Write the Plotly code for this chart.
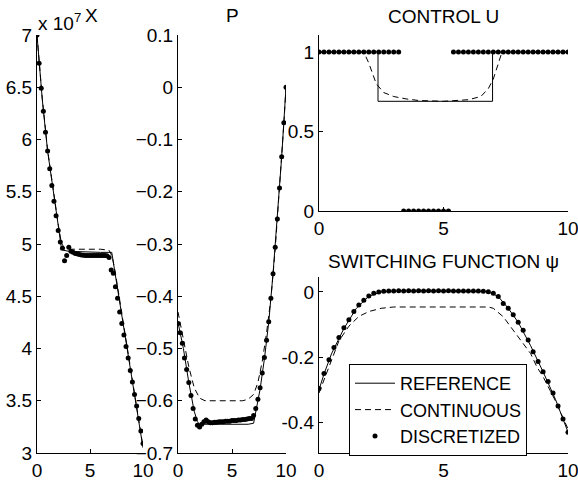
import plotly.graph_objects as go

# ---------------- data ----------------
# discretized time grid
t_disc = [0.0, 0.2, 0.4, 0.6, 0.8, 1.0, 1.2, 1.4, 1.6, 1.8,
          2.0, 2.2, 2.4, 2.6, 2.8, 3.0, 3.2, 3.4, 3.6, 3.8,
          4.0, 4.2, 4.4, 4.6, 4.8, 5.0, 5.2, 5.4, 5.6, 5.8,
          6.0, 6.2, 6.4, 6.6, 6.8, 7.0, 7.2, 7.4, 7.6, 7.8,
          8.0, 8.2, 8.4, 8.6, 8.8, 9.0, 9.2, 9.4, 9.6, 9.8, 10.0]

# X (units of 1e7)
X_disc = [7.00, 6.73, 6.49, 6.27, 6.07, 5.89, 5.72, 5.56, 5.41, 5.27,
          5.13, 5.02, 4.96, 4.84, 4.89, 4.97, 4.93, 4.92, 4.91, 4.905,
          4.90, 4.895, 4.893, 4.89, 4.89, 4.89, 4.89, 4.89, 4.89, 4.89,
          4.89, 4.89, 4.89, 4.888, 4.87, 4.75, 4.72, 4.59, 4.48, 4.35,
          4.24, 4.13, 4.02, 3.91, 3.79, 3.68, 3.56, 3.45, 3.33, 3.21, 3.09]
t_X_ref = [0.0, 0.5, 1.0, 1.5, 2.0, 2.3, 2.5, 3.0, 4.0, 5.0, 6.0, 7.05, 8.0, 9.0, 10.0]
X_ref = [7.00, 6.38, 5.89, 5.51, 5.18, 4.96, 4.94, 4.93, 4.925, 4.92, 4.92, 4.92, 4.33, 3.69, 3.05]
t_X_cont = [0.0, 0.5, 1.0, 1.5, 2.0, 2.3, 2.6, 3.0, 4.0, 5.0, 6.0, 6.8, 7.1, 7.4, 8.0, 9.0, 10.0]
X_cont = [7.00, 6.39, 5.90, 5.52, 5.19, 5.01, 4.96, 4.95, 4.95, 4.95, 4.95, 4.94, 4.88, 4.72, 4.34, 3.70, 3.06]

# P (costate)
P_disc = [-0.452, -0.47, -0.49, -0.518, -0.54, -0.565, -0.59, -0.615, -0.635, -0.647,
          -0.650, -0.645, -0.640, -0.637, -0.640, -0.642, -0.642, -0.641, -0.641, -0.640,
          -0.640, -0.640, -0.639, -0.639, -0.639, -0.638, -0.638, -0.638, -0.637, -0.637,
          -0.636, -0.636, -0.635, -0.634, -0.634, -0.628, -0.615, -0.597, -0.575, -0.547,
          -0.517, -0.484, -0.449, -0.404, -0.357, -0.306, -0.252, -0.193, -0.133, -0.068, 0.0]
t_P_ref = [0.0, 0.5, 1.0, 1.5, 1.8, 2.0, 3.0, 5.0, 6.5, 7.0, 7.3, 7.6, 8.0, 8.4, 8.8, 9.2, 9.6, 10.0]
P_ref = [-0.45, -0.50, -0.565, -0.62, -0.64, -0.645, -0.645, -0.645, -0.645, -0.643,
         -0.612, -0.578, -0.52, -0.45, -0.357, -0.252, -0.133, 0.0]
t_P_cont = [0.0, 0.5, 1.0, 1.5, 2.0, 2.5, 4.0, 6.0, 6.5, 7.0, 7.4, 7.8, 8.2, 8.6, 9.0, 9.4, 9.8, 10.0]
P_cont = [-0.43, -0.48, -0.535, -0.575, -0.595, -0.60, -0.60, -0.60, -0.597, -0.588,
          -0.565, -0.525, -0.47, -0.405, -0.31, -0.195, -0.07, 0.0]

# Control U
U_disc = [1, 1, 1, 1, 1, 1, 1, 1, 1, 1,
          1, 1, 1, 1, 1, 1, 1, 0, 0, 0,
          0, 0, 0, 0, 0, 0, 0, 1, 1, 1,
          1, 1, 1, 1, 1, 1, 1, 1, 1, 1,
          1, 1, 1, 1, 1, 1, 1, 1, 1, 1, 1]
t_U_ref = [0.0, 2.37, 2.37, 6.97, 6.97, 10.0]
U_ref = [1.0, 1.0, 0.69, 0.69, 1.0, 1.0]
t_U_cont = [0.0, 1.8, 2.0, 2.3, 2.6, 3.0, 3.5, 4.0, 5.0, 6.0, 6.5, 6.8, 7.0, 7.2, 7.35, 10.0]
U_cont = [1.0, 1.0, 0.93, 0.80, 0.745, 0.72, 0.705, 0.695, 0.69, 0.70, 0.72, 0.77, 0.83, 0.92, 1.0, 1.0]

# Switching function psi
PSI_disc = [-0.296, -0.25, -0.208, -0.17, -0.14, -0.11, -0.085, -0.06, -0.04, -0.025,
            -0.012, -0.004, 0.0, 0.002, 0.003, 0.003, 0.004, 0.003, 0.004, 0.003,
            0.004, 0.003, 0.004, 0.003, 0.004, 0.003, 0.004, 0.003, 0.003, 0.003,
            0.003, 0.003, 0.003, 0.002, 0.001, -0.004, -0.014, -0.035, -0.05, -0.07,
            -0.093, -0.117, -0.147, -0.183, -0.213, -0.245, -0.275, -0.31, -0.35, -0.39, -0.43]
t_PSI_ref = [0.0, 0.2, 0.5, 1.0, 1.5, 2.0, 2.5, 3.0, 5.0, 6.8, 7.2, 7.6, 8.0, 8.5, 9.0, 9.5, 10.0]
PSI_ref = [-0.30, -0.252, -0.19, -0.112, -0.05, -0.013, 0.0, 0.003, 0.003, 0.001,
           -0.014, -0.05, -0.093, -0.165, -0.245, -0.33, -0.43]
t_PSI_cont = [0.0, 0.4, 0.8, 1.2, 1.6, 2.0, 2.5, 3.0, 5.0, 6.8, 7.0, 7.4, 7.7, 8.1, 8.5, 8.75, 9.0, 9.5, 10.0]
PSI_cont = [-0.31, -0.23, -0.15, -0.105, -0.075, -0.06, -0.05, -0.046, -0.045, -0.046,
            -0.05, -0.076, -0.107, -0.148, -0.189, -0.23, -0.26, -0.335, -0.42]

# ---------------- figure ----------------
W, H = 578, 481
FONT = "Liberation Sans, Arial, Helvetica, sans-serif"
FS = 19
BLACK = "#000000"

def fx(px):
    return px / W

def fy(py):
    return 1 - py / H

fig = go.Figure()

panels = [
    ("x", "y", t_X_ref, X_ref, t_X_cont, X_cont, X_disc),
    ("x2", "y2", t_P_ref, P_ref, t_P_cont, P_cont, P_disc),
    ("x3", "y3", t_U_ref, U_ref, t_U_cont, U_cont, U_disc),
    ("x4", "y4", t_PSI_ref, PSI_ref, t_PSI_cont, PSI_cont, PSI_disc),
]

for i, (xa, ya, tr, vr, tc, vc, vd) in enumerate(panels):
    show = (i == 3)
    fig.add_trace(go.Scatter(x=tr, y=vr, mode="lines", xaxis=xa, yaxis=ya,
                             line=dict(color=BLACK, width=1), name="REFERENCE",
                             legendgroup="ref", showlegend=show))
    fig.add_trace(go.Scatter(x=tc, y=vc, mode="lines", xaxis=xa, yaxis=ya,
                             line=dict(color=BLACK, width=1, dash="6px,4px"),
                             name="CONTINUOUS", legendgroup="cont", showlegend=show))
    fig.add_trace(go.Scatter(x=t_disc, y=vd, mode="markers", xaxis=xa, yaxis=ya,
                             marker=dict(color=BLACK, size=5), name="DISCRETIZED",
                             legendgroup="disc", showlegend=show))

axis_common = dict(showline=True, linecolor=BLACK, linewidth=1, mirror=False,
                   ticks="inside", ticklen=4, tickcolor=BLACK, tickwidth=1,
                   showgrid=False, zeroline=False, automargin=False,
                   ticklabeloverflow="allow",
                   tickfont=dict(family=FONT, size=FS, color=BLACK))

top, bot = 35, 453
xt = dict(tickvals=[0, 5, 10], ticktext=["0", "5", "10"], range=[0, 10])

fig.update_layout(
    width=W, height=H, autosize=False,
    margin=dict(l=0, r=0, t=0, b=0, pad=0, autoexpand=False),
    paper_bgcolor="white", plot_bgcolor="white",
    font=dict(family=FONT, size=FS, color=BLACK),
    xaxis=dict(domain=[fx(37), fx(143)], anchor="y", **xt, **axis_common),
    yaxis=dict(domain=[fy(bot), fy(top)], anchor="x", range=[3, 7],
               tickvals=[3, 3.5, 4, 4.5, 5, 5.5, 6, 6.5, 7],
               ticktext=["3", "3.5", "4", "4.5", "5", "5.5", "6", "6.5", "7"], **axis_common),
    xaxis2=dict(domain=[fx(178), fx(286)], anchor="y2", **xt, **axis_common),
    yaxis2=dict(domain=[fy(bot), fy(top)], anchor="x2", range=[-0.7, 0.1],
                tickvals=[-0.7, -0.6, -0.5, -0.4, -0.3, -0.2, -0.1, 0, 0.1],
                ticktext=["\u22120.7", "\u22120.6", "\u22120.5", "\u22120.4", "\u22120.3",
                          "\u22120.2", "\u22120.1", "0", "0.1"], **axis_common),
    xaxis3=dict(domain=[fx(319), fx(568)], anchor="y3", **xt, **axis_common),
    yaxis3=dict(domain=[fy(211), fy(top)], anchor="x3", range=[0, 1.107],
                tickvals=[0, 0.5, 1], ticktext=["0", "0.5", "1"], **axis_common),
    xaxis4=dict(domain=[fx(319), fx(568)], anchor="y4", **xt, **axis_common),
    yaxis4=dict(domain=[fy(bot), fy(277)], anchor="x4", range=[-0.494, 0.046],
                tickvals=[-0.4, -0.2, 0], ticktext=["-0.4", "-0.2", "0"], **axis_common),
    showlegend=True,
    legend=dict(x=fx(349), y=fy(364), xanchor="left", yanchor="top",
                bgcolor="white", bordercolor=BLACK, borderwidth=1,
                font=dict(family=FONT, size=18, color=BLACK),
                tracegroupgap=0, itemwidth=40),
)

ann = [
    ("X", 91, 15),
    ("P", 232, 15),
    ("CONTROL U", 443, 17),
    ("SWITCHING FUNCTION \u03c8", 443, 261),
]
for text, px, py in ann:
    fig.add_annotation(text=text, x=fx(px), y=fy(py), xref="paper", yref="paper",
                       xanchor="center", yanchor="middle", showarrow=False,
                       font=dict(family=FONT, size=FS, color=BLACK))
fig.add_annotation(text="x 10<sup>7</sup>", x=fx(36), y=fy(22), xref="paper", yref="paper",
                   xanchor="left", yanchor="middle", showarrow=False,
                   font=dict(family=FONT, size=FS, color=BLACK))

fig.write_html("out.html")
